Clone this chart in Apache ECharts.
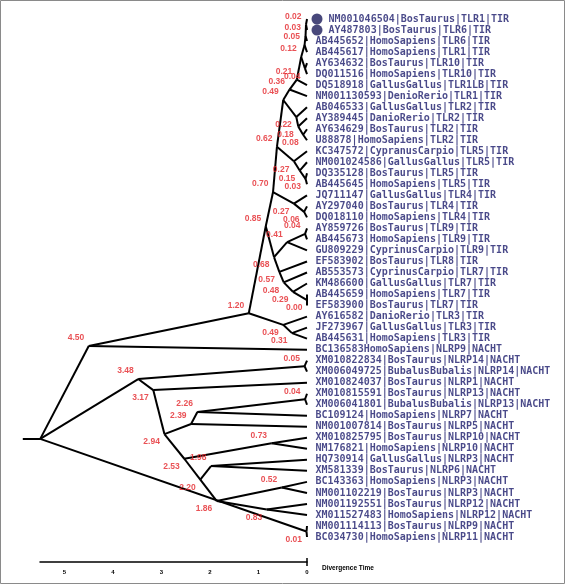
<!DOCTYPE html>
<html>
<head>
<meta charset="utf-8">
<script src="https://cdn.jsdelivr.net/npm/echarts@6/dist/echarts.min.js"></script>
<style>
html,body{margin:0;padding:0;background:#fff;}
#chart{width:565px;height:584px;}
</style>
</head>
<body>
<div id="chart"></div>
<script>
// Leaves (top to bottom)
const leafNames = [
'NM001046504|BosTaurus|TLR1|TIR',
'AY487803|BosTaurus|TLR6|TIR',
'AB445652|HomoSapiens|TLR6|TIR',
'AB445617|HomoSapiens|TLR1|TIR',
'AY634632|BosTaurus|TLR10|TIR',
'DQ011516|HomoSapiens|TLR10|TIR',
'DQ518918|GallusGallus|TLR1LB|TIR',
'NM001130593|DenioRerio|TLR1|TIR',
'AB046533|GallusGallus|TLR2|TIR',
'AY389445|DanioRerio|TLR2|TIR',
'AY634629|BosTaurus|TLR2|TIR',
'U88878|HomoSapiens|TLR2|TIR',
'KC347572|CypranusCarpio|TLR5|TIR',
'NM001024586|GallusGallus|TLR5|TIR',
'DQ335128|BosTaurus|TLR5|TIR',
'AB445645|HomoSapiens|TLR5|TIR',
'JQ711147|GallusGallus|TLR4|TIR',
'AY297040|BosTaurus|TLR4|TIR',
'DQ018110|HomoSapiens|TLR4|TIR',
'AY859726|BosTaurus|TLR9|TIR',
'AB445673|HomoSapiens|TLR9|TIR',
'GU809229|CyprinusCarpio|TLR9|TIR',
'EF583902|BosTaurus|TLR8|TIR',
'AB553573|CyprinusCarpio|TLR7|TIR',
'KM486600|GallusGallus|TLR7|TIR',
'AB445659|HomoSapiens|TLR7|TIR',
'EF583900|BosTaurus|TLR7|TIR',
'AY616582|DanioRerio|TLR3|TIR',
'JF273967|GallusGallus|TLR3|TIR',
'AB445631|HomoSapiens|TLR3|TIR',
'BC136583HomoSapiens|NLRP9|NACHT',
'XM010822834|BosTaurus|NLRP14|NACHT',
'XM006049725|BubalusBubalis|NLRP14|NACHT',
'XM010824037|BosTaurus|NLRP1|NACHT',
'XM010815591|BosTaurus|NLRP13|NACHT',
'XM006041801|BubalusBubalis|NLRP13|NACHT',
'BC109124|HomoSapiens|NLRP7|NACHT',
'NM001007814|BosTaurus|NLRP5|NACHT',
'XM010825795|BosTaurus|NLRP10|NACHT',
'NM176821|HomoSapiens|NLRP10|NACHT',
'HQ730914|GallusGallus|NLRP3|NACHT',
'XM581339|BosTaurus|NLRP6|NACHT',
'BC143363|HomoSapiens|NLRP3|NACHT',
'NM001102219|BosTaurus|NLRP3|NACHT',
'NM001192551|BosTaurus|NLRP12|NACHT',
'XM011527483|HomoSapiens|NLRP12|NACHT',
'NM001114113|BosTaurus|NLRP9|NACHT',
'BC034730|HomoSapiens|NLRP11|NACHT'
];
const leafParents = ['n002','n002','n003','n005','n004t','n004t','n021','n036','n022','n018','n008','n008',
'n027a','n015','n003b','n003b','n027b','n006','n006','n004c','n004c','n041','n057','n048','n029','n000','n000',
'n049b','n031','n031','n450','nA','nA','n317','nB','nB','n226','n239','nC','nC','n198','n198','nD','nD','nE','nE','nF','nF'];
const markedLeaves = [0, 1];

// Internal nodes: id, divergence time, row position, parent
const nodeIds = ['n002','n003','n005','n004t','n012','n021','n036','n008','n018','n022',
'n049','n003b','n015','n027a','n062','n006','n027b','n070','n004c','n041',
'n000','n029','n048','n057','n068','n085','n031','n049b','n120','n450',
'nA','nB','n226','n239','nC','n198','nD','nE','nF','n186',
'n220','n253','n294','n317','n348','root'];
const nodeTimes = [0.02,0.03,0.05,0.04,0.12,0.21,0.36,0.08,0.18,0.22,
0.49,0.03,0.15,0.27,0.62,0.06,0.27,0.70,0.04,0.41,
0.00,0.29,0.48,0.57,0.68,0.85,0.31,0.49,1.20,4.50,
0.05,0.04,2.26,2.39,0.73,1.98,0.52,0.83,0.01,1.86,
2.20,2.53,2.94,3.17,3.48,5.50];
const nodeRows = [0.5,1.55,2.36,4.5,3.45,5.5,6.4,10.5,9.75,8.9,
7.35,14.5,13.75,12.9,11.6,17.5,16.75,15.7,19.5,20.25,
25.5,24.75,23.9,22.95,21.6,18.8,28.5,27.75,26.7,29.67,
31.5,34.5,35.66,36.75,38.5,40.56,42.5,44.5,46.5,43.74,
41.8,39.9,37.66,33.67,32.67,38.1];
const nodeParents = ['n003','n005','n012','n012','n021','n036','n049','n018','n022','n049',
'n062','n015','n027a','n062','n070','n027b','n070','n085','n041','n068',
'n029','n048','n057','n068','n085','n120','n049b','n120','n450','root',
'n348','n226','n239','n294','n253','n220','n186','n186','root','n220',
'n253','n294','n317','n348','root',null];
const rootStubTime = 5.86;
const scaleTicks = [0,1,2,3,4,5];

const idx = {};
nodeIds.forEach((id,i)=>{ idx[id]=i; });
const pt = id => [nodeTimes[idx[id]], nodeRows[idx[id]]];

const edges = [];
leafNames.forEach((n,i)=>{ edges.push({coords:[pt(leafParents[i]), [0,i]]}); });
nodeIds.forEach((id,i)=>{ if (nodeParents[i]) edges.push({coords:[pt(nodeParents[i]), pt(id)]}); });
edges.push({coords:[pt('root'), [rootStubTime, nodeRows[idx['root']]]]});

const nodeLabels = [];
nodeIds.forEach((id,i)=>{
  const p = nodeParents[i];
  if (!p) return;
  const above = nodeRows[i] < nodeRows[idx[p]];
  nodeLabels.push({value:[nodeTimes[i], nodeRows[i]], name: nodeTimes[i].toFixed(2),
    label:{offset:[0, above ? -8 : 8]}});
});

const leafData = leafNames.map((n,i)=>({name:n, value:[0,i],
  label:{distance: markedLeaves.indexOf(i)>=0 ? 21 : 8}}));
const markData = markedLeaves.map(i=>({value:[0,i]}));

const chart = echarts.init(document.getElementById('chart'), null, {renderer:'canvas'});
chart.setOption({
  backgroundColor:'#fff',
  animation:false,
  grid:[
    {left:16, width:291, top:19, height:518},
    {left:40, width:267, top:558, height:8}
  ],
  xAxis:[
    {gridIndex:0, type:'value', inverse:true, min:0, max:6, show:false},
    {gridIndex:1, type:'value', inverse:true, min:0, max:5.505, interval:1,
     axisLine:{show:true, onZero:true, lineStyle:{color:'#000', width:1.5}},
     axisTick:{show:false}, splitLine:{show:false},
     axisLabel:{show:true, margin:3, fontSize:6, fontWeight:'bold', color:'#000',
       fontFamily:'Liberation Sans', showMaxLabel:false,
       formatter: v => scaleTicks.indexOf(v)>=0 ? String(v) : ''}}
  ],
  yAxis:[
    {gridIndex:0, type:'value', inverse:true, min:0, max:47, show:false},
    {gridIndex:1, type:'value', min:-1, max:1, show:false}
  ],
  graphic:[
    {type:'rect', shape:{x:0.5, y:0.5, width:564, height:583}, style:{fill:'none', stroke:'#8a8a8a', lineWidth:1}, silent:true},
    {type:'text', left:322, top:565, style:{text:'Divergence Time', font:'bold 6.5px "Liberation Sans"', fill:'#000'}}
  ],
  series:[
    {type:'lines', coordinateSystem:'cartesian2d', xAxisIndex:0, yAxisIndex:0,
     data:edges, lineStyle:{color:'#000', width:2, opacity:1}, silent:true, z:2},
    {type:'scatter', xAxisIndex:0, yAxisIndex:0, data:leafData, symbolSize:1,
     itemStyle:{color:'transparent'}, silent:true, z:3,
     label:{show:true, position:'right', formatter:p=>p.name, color:'#1b1b6b',
       fontFamily:'DejaVu Sans Mono', fontWeight:'bold', fontSize:10}},
    {type:'scatter', xAxisIndex:0, yAxisIndex:0, data:markData, symbol:'circle', symbolSize:11,
     symbolOffset:[10,0], itemStyle:{color:'#1a1a5a'}, silent:true, z:4},
    {type:'scatter', xAxisIndex:0, yAxisIndex:0, data:nodeLabels, symbolSize:1,
     itemStyle:{color:'transparent'}, silent:true, z:5,
     label:{show:true, position:'left', distance:4, formatter:p=>p.name, color:'#e3262a',
       fontFamily:'Liberation Sans', fontWeight:'bold', fontSize:8.5}},
    {type:'scatter', xAxisIndex:1, yAxisIndex:1, data:[], silent:true,
     markLine:{silent:true, symbol:['none','none'], label:{show:false},
       lineStyle:{color:'#000', width:1.5, type:'solid'},
       data:[[{coord:[0,-1]},{coord:[0,1]}]]}}
  ]
});
</script>
</body>
</html>
